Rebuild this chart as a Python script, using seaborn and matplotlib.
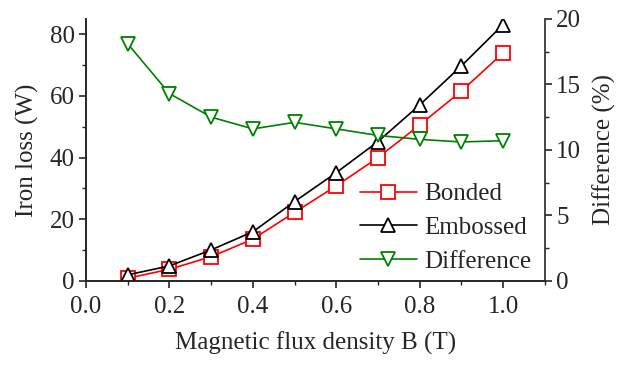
import pandas as pd
import numpy as np
import matplotlib
matplotlib.use("Agg")
import matplotlib.pyplot as plt
import seaborn as sns
from matplotlib.ticker import MultipleLocator

# Data
flux_density = [0.1, 0.2, 0.3, 0.4, 0.5, 0.6, 0.7, 0.8, 0.9, 1.0]
bonded_loss = [0.8, 3.7, 7.8, 13.5, 22.2, 30.8, 40.0, 50.6, 61.6, 74.0]
embossed_loss = [1.9, 4.8, 10.0, 15.9, 25.7, 35.1, 45.2, 57.1, 69.8, 83.2]
difference_pct = [18.1, 14.3, 12.5, 11.6, 12.1, 11.6, 11.1, 10.8, 10.6, 10.7]

df = pd.DataFrame({"B": flux_density, "Bonded": bonded_loss,
                   "Embossed": embossed_loss, "Difference": difference_pct})

sns.set_style("ticks")
plt.rcParams["font.family"] = ["Liberation Serif", "DejaVu Serif"]
plt.rcParams["font.size"] = 18
plt.rcParams["xtick.direction"] = "out"
plt.rcParams["ytick.direction"] = "out"

fig = plt.figure(figsize=(6.21, 3.65), dpi=100)
ax = fig.add_axes([0.1385, 0.231, 0.739, 0.717])
ax2 = ax.twinx()

mk = dict(markersize=10.5, markerfacecolor="white", markeredgewidth=1.3, linewidth=1.2)
sns.lineplot(data=df, x="B", y="Bonded", ax=ax, color="#ff0000", marker="s",
             markeredgecolor="#ff0000", label="Bonded", legend=False, **mk)
sns.lineplot(data=df, x="B", y="Embossed", ax=ax, color="black", marker="^",
             markeredgecolor="black", label="Embossed", legend=False, **mk)
sns.lineplot(data=df, x="B", y="Difference", ax=ax2, color="#008000", marker="v",
             markeredgecolor="#008000", label="Difference", legend=False, **mk)

ax.set_xlim(0, 1.1)
ax.set_ylim(0, 85)
ax2.set_ylim(0, 20)
ax.xaxis.set_major_locator(MultipleLocator(0.2))
ax.xaxis.set_minor_locator(MultipleLocator(0.1))
ax.yaxis.set_major_locator(MultipleLocator(20))
ax.yaxis.set_minor_locator(MultipleLocator(10))
ax2.yaxis.set_major_locator(MultipleLocator(5))
ax2.yaxis.set_minor_locator(MultipleLocator(2.5))
ax.xaxis.set_major_formatter(matplotlib.ticker.FormatStrFormatter("%.1f"))

for a in (ax, ax2):
    a.spines["top"].set_visible(False)
    for s in a.spines.values():
        s.set_linewidth(1.2)
    a.tick_params(which="major", length=5, width=1.2, labelsize=18, pad=3)
    a.tick_params(which="minor", length=3, width=1.0)
ax.spines["right"].set_visible(False)
ax.tick_params(axis="x", pad=6)

ax.set_xlabel("Magnetic flux density B (T)", fontsize=18, labelpad=10)
ax.set_ylabel("Iron loss (W)", fontsize=18, labelpad=8)
ax2.set_ylabel("Difference (%)", fontsize=18, labelpad=8)

h1, l1 = ax.get_legend_handles_labels()
h2, l2 = ax2.get_legend_handles_labels()
ax2.legend(h1 + h2, l1 + l2, loc="lower right", bbox_to_anchor=(0.993, -0.008),
           frameon=False, fontsize=18, handlelength=2.3, labelspacing=0.45,
           borderaxespad=0.0, handletextpad=0.3)

fig.savefig("out.png", dpi=100)
